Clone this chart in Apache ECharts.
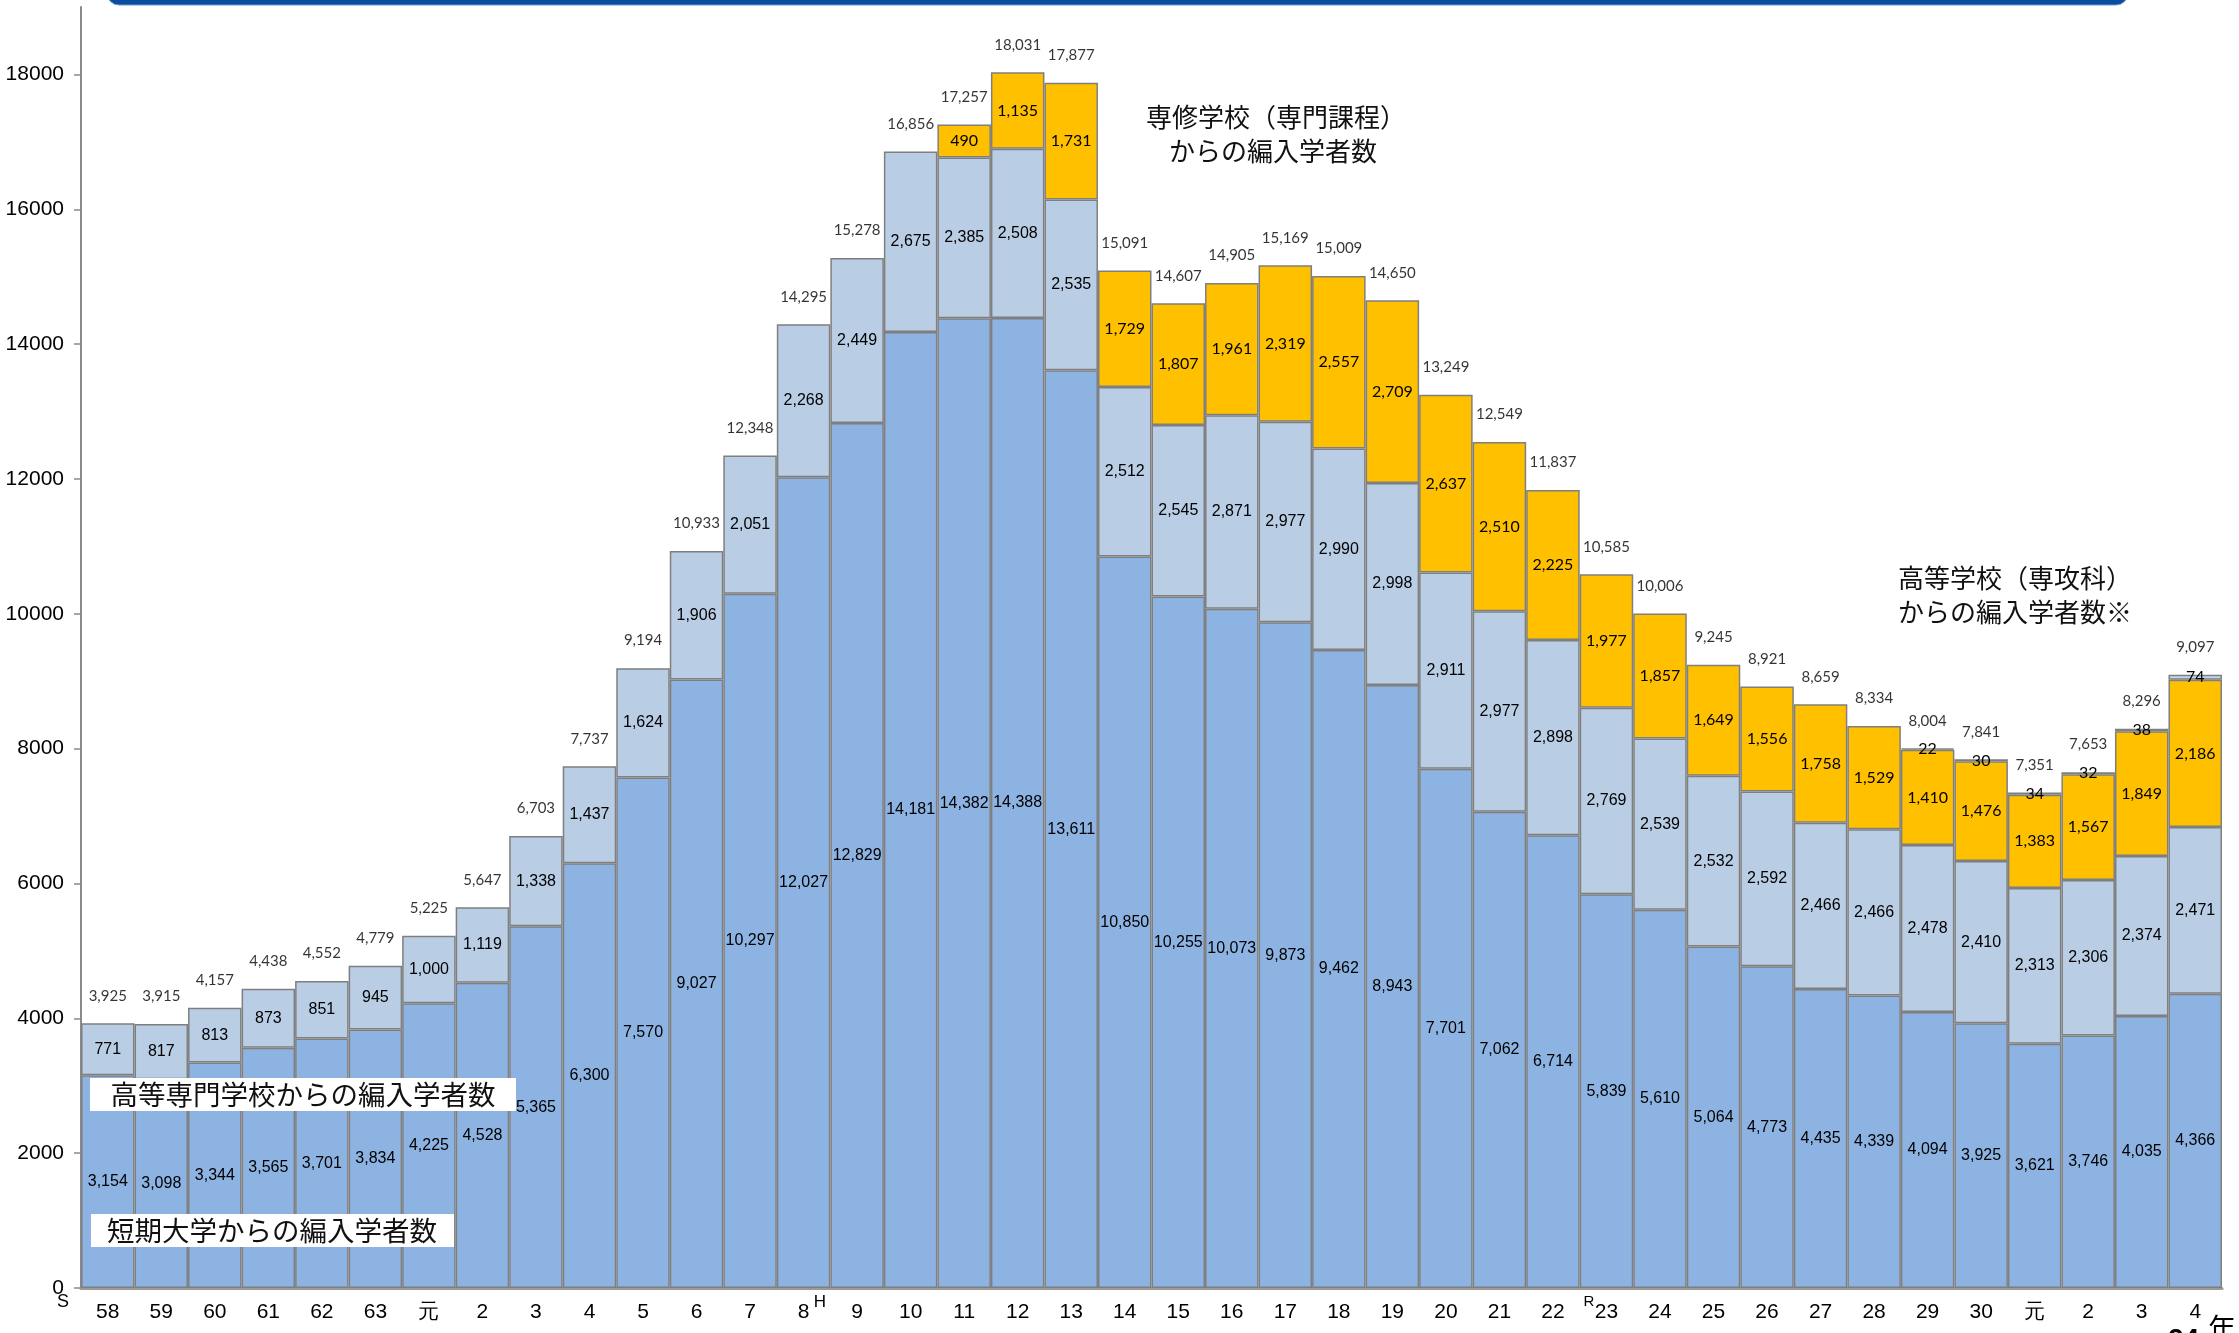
<!DOCTYPE html>
<html><head><meta charset="utf-8">
<script src="https://cdn.jsdelivr.net/npm/echarts/dist/echarts.min.js"></script>
<style>html,body{margin:0;padding:0;background:#fff;overflow:hidden}#c{width:2239px;height:1333px}</style>
</head><body><div id="c"></div>
<script>
const categories = ['58','59','60','61','62','63','元','2','3','4','5','6','7','8','9','10','11','12','13','14','15','16','17','18','19','20','21','22','23','24','25','26','27','28','29','30','元','2','3','4'];
const tandai = [3154,3098,3344,3565,3701,3834,4225,4528,5365,6300,7570,9027,10297,12027,12829,14181,14382,14388,13611,10850,10255,10073,9873,9462,8943,7701,7062,6714,5839,5610,5064,4773,4435,4339,4094,3925,3621,3746,4035,4366];
const kosen = [771,817,813,873,851,945,1000,1119,1338,1437,1624,1906,2051,2268,2449,2675,2385,2508,2535,2512,2545,2871,2977,2990,2998,2911,2977,2898,2769,2539,2532,2592,2466,2466,2478,2410,2313,2306,2374,2471];
const senshu = [null,null,null,null,null,null,null,null,null,null,null,null,null,null,null,null,490,1135,1731,1729,1807,1961,2319,2557,2709,2637,2510,2225,1977,1857,1649,1556,1758,1529,1410,1476,1383,1567,1849,2186];
const koukou = [null,null,null,null,null,null,null,null,null,null,null,null,null,null,null,null,null,null,null,null,null,null,null,null,null,null,null,null,null,null,null,null,null,null,22,30,34,32,38,74];
const totals = [3925,3915,4157,4438,4552,4779,5225,5647,6703,7737,9194,10933,12348,14295,15278,16856,17257,18031,17877,15091,14607,14905,15169,15009,14650,13249,12549,11837,10585,10006,9245,8921,8659,8334,8004,7841,7351,7653,8296,9097];
const yTicks = [0,2000,4000,6000,8000,10000,12000,14000,16000,18000];

const fmt = v => (v == null ? '' : Number(v).toLocaleString('en-US'));
const border = {borderColor:'#7f7f7f', borderWidth:1.5};
const jp = "'Noto Sans CJK JP', sans-serif";
const arial = "'Liberation Sans', Arial, sans-serif";
const narrow = "'Liberation Sans Narrow', 'Arial Narrow', 'Liberation Sans', sans-serif";
const calib = "Lato, 'Open Sans', sans-serif";

function barSeries(name, data, color, font) {
  return {
    name, type:'bar', stack:'s', data, barCategoryGap:'0%',
    itemStyle:Object.assign({color}, border),
    label:{show:true, position:'inside', color:'#000', fontSize:16, fontFamily:font,
      formatter:p => fmt(p.value)},
    z:2
  };
}

const chart = echarts.init(document.getElementById('c'), null, {renderer:'canvas'});
chart.setOption({
  animation:false,
  backgroundColor:'#fff',
  grid:{left:81, right:17, top:7, bottom:45},
  xAxis:{type:'category', data:categories,
    axisLine:{lineStyle:{color:'#9a9a9a', width:3}},
    axisTick:{show:false},
    axisLabel:{color:'#000', fontSize:21, fontFamily:narrow, margin:14, interval:0}},
  yAxis:{type:'value', min:0, max:19000,
    splitLine:{show:false},
    axisLine:{show:true, lineStyle:{color:'#8a8a8a', width:2}},
    axisTick:{show:true, length:7, customValues:yTicks, lineStyle:{color:'#8a8a8a', width:1.5}},
    axisLabel:{color:'#000', fontSize:21, fontFamily:narrow, margin:17, customValues:yTicks,
      formatter:v => String(v)}},
  series:[
    barSeries('短期大学', tandai, '#8db3e2', arial),
    barSeries('高等専門学校', kosen, '#b9cde5', arial),
    barSeries('専修学校', senshu, '#ffc000', calib),
    barSeries('高等学校専攻科', koukou, '#c6d6ea', calib),
    {name:'合計', type:'scatter', data:totals, symbolSize:0, z:5,
     label:{show:true, position:'top', distance:20, color:'#000', fontSize:15, fontFamily:calib,
       formatter:p => fmt(p.value)}}
  ],
  graphic:[
    {type:'rect', z:100, shape:{x:107, y:-30, width:2021, height:35, r:12}, style:{fill:'#0a4d9f', stroke:'#6d9bd4', lineWidth:1}},
    {type:'rect', z:100, shape:{x:90, y:1078, width:426, height:33}, style:{fill:'#fff'}},
    {type:'text', z:101, x:303, y:1095, style:{text:'高等専門学校からの編入学者数', font:"27.5px " + jp, fill:'#111', textAlign:'center', textVerticalAlign:'middle'}},
    {type:'rect', z:100, shape:{x:91, y:1214, width:363, height:33}, style:{fill:'#fff'}},
    {type:'text', z:101, x:272, y:1231, style:{text:'短期大学からの編入学者数', font:"27.5px " + jp, fill:'#111', textAlign:'center', textVerticalAlign:'middle'}},
    {type:'text', z:101, x:1276, y:117, style:{text:'専修学校（専門課程）', font:"26px " + jp, fill:'#111', textAlign:'center', textVerticalAlign:'middle'}},
    {type:'text', z:101, x:1273, y:151, style:{text:'からの編入学者数', font:"26px " + jp, fill:'#111', textAlign:'center', textVerticalAlign:'middle'}},
    {type:'text', z:101, x:2015, y:578, style:{text:'高等学校（専攻科）', font:"26px " + jp, fill:'#111', textAlign:'center', textVerticalAlign:'middle'}},
    {type:'text', z:101, x:2015, y:612, style:{text:'からの編入学者数※', font:"26px " + jp, fill:'#111', textAlign:'center', textVerticalAlign:'middle'}},
    {type:'text', z:101, x:63, y:1302, style:{text:'S', font:"18px " + narrow, fill:'#000', textAlign:'center', textVerticalAlign:'middle'}},
    {type:'text', z:101, x:820, y:1302, style:{text:'H', font:"17px " + narrow, fill:'#000', textAlign:'center', textVerticalAlign:'middle'}},
    {type:'text', z:101, x:1589, y:1302, style:{text:'R', font:"15px " + narrow, fill:'#000', textAlign:'center', textVerticalAlign:'middle'}},
    {type:'text', z:101, x:2168, y:1326, style:{text:'24', font:"bold 28px " + arial, fill:'#000', textAlign:'left', textVerticalAlign:'top'}},
    {type:'text', z:101, x:2208, y:1314, style:{text:'年', font:"28px " + jp, fill:'#000', textAlign:'left', textVerticalAlign:'top'}}
  ]
});
</script></body></html>
